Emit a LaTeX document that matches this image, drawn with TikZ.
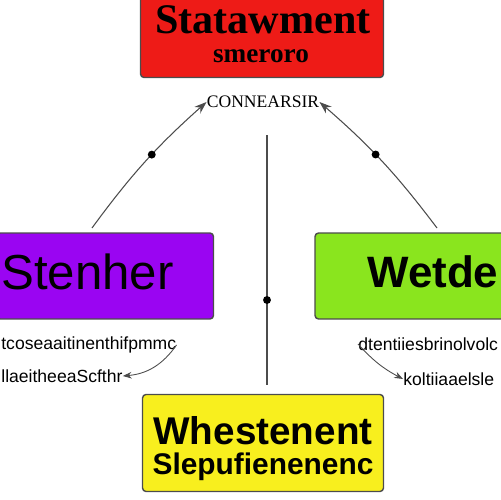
\documentclass[tikz,border=0pt]{standalone}
\usepackage{fontspec}
\setmainfont{Liberation Serif}
\setsansfont{Liberation Sans}
\usetikzlibrary{arrows.meta}

\definecolor{stmtred}{HTML}{EE1B17}
\definecolor{stenpurple}{HTML}{9A05F2}
\definecolor{wetgreen}{HTML}{8AE51E}
\definecolor{whestyellow}{HTML}{F8EF1E}

\begin{document}
\begin{tikzpicture}[
  x=0.02cm, y=-0.02cm,
  box/.style={draw=black!70, line width=0.8pt, rounded corners=2pt, inner sep=0},
  ttl/.style={font=\sffamily, inner sep=0},
  note/.style={font=\sffamily\fontsize{10}{12}\selectfont, inner sep=0, anchor=west},
  conn/.style={draw=black!70, line width=0.6pt},
  dot/.style={circle, fill=black, inner sep=0, minimum size=4.5pt},
]
\useasboundingbox (0,0) rectangle (500,500);
% --- boxes ---
\node[box, fill=stmtred, minimum width=4.86cm, minimum height=1.66cm] (stmt) at (262,36) {};
\node[box, fill=stenpurple, minimum width=4.34cm, minimum height=1.72cm] (sten) at (105,276) {};
\node[box, fill=wetgreen, minimum width=3.8cm, minimum height=1.72cm] (wetde) at (410,276) {};
\node[box, fill=whestyellow, minimum width=4.82cm, minimum height=1.94cm] (whest) at (263,443) {};
% --- texts in boxes ---
\node[ttl, font=\rmfamily\bfseries\fontsize{24}{28}\selectfont] (stmtA) at (263,20) {Statawment};
\node[ttl, font=\rmfamily\bfseries\fontsize{15.5}{18}\selectfont] (stmtB) at (261,56) {smeroro};
\node[ttl, font=\sffamily\fontsize{28}{32}\selectfont, anchor=west] (stenA) at (1,272) {Stenher};
\node[ttl, font=\sffamily\bfseries\fontsize{25}{30}\selectfont, anchor=west] (wetdeA) at (367,272) {Wetde};
\node[ttl, font=\sffamily\bfseries\fontsize{22}{26}\selectfont] (whestA) at (263,431) {Whestenent};
\node[ttl, font=\sffamily\bfseries\fontsize{17}{20}\selectfont] (whestB) at (263,467) {Slepufienenenc};
% --- label and notes ---
\node[ttl, font=\rmfamily\fontsize{10}{12}\selectfont] (conn) at (263,102) {CONNEARSIR};
\node[note] (lnoteA) at (1,345) {tcoseaaitinenthifpmmc};
\node[note] (lnoteB) at (1,376) {llaeitheeaScfthr};
\node[note] (rnoteA) at (358,344) {dtentiiesbrinolvolc};
\node[note] (rnoteB) at (403,379) {koltiiaaelsle};
% --- connectors ---
\coordinate (lfoot) at (92,228);
\coordinate (rfoot) at (437,228);
\coordinate (vtop) at (267,135);
\coordinate (vbot) at (267,385);
\draw[conn, -{Stealth[length=7pt, width=5pt]}] (lfoot) to[bend left=6] node[dot, pos=0.56] {} (conn.west);
\draw[conn, -{Stealth[length=7pt, width=5pt]}] (rfoot) to[bend right=6] node[dot, pos=0.56] {} (conn.east);
\draw[conn] (vtop) -- node[dot, pos=0.66] {} (vbot);
\draw[conn, line width=0.5pt, -{Stealth[length=5pt]}] (lnoteA.east) to[bend left=25] (lnoteB.east);
\draw[conn, line width=0.5pt, -{Stealth[length=5pt]}] (rnoteA.west) to[bend right=10] (rnoteB.west);
\end{tikzpicture}
\end{document}
